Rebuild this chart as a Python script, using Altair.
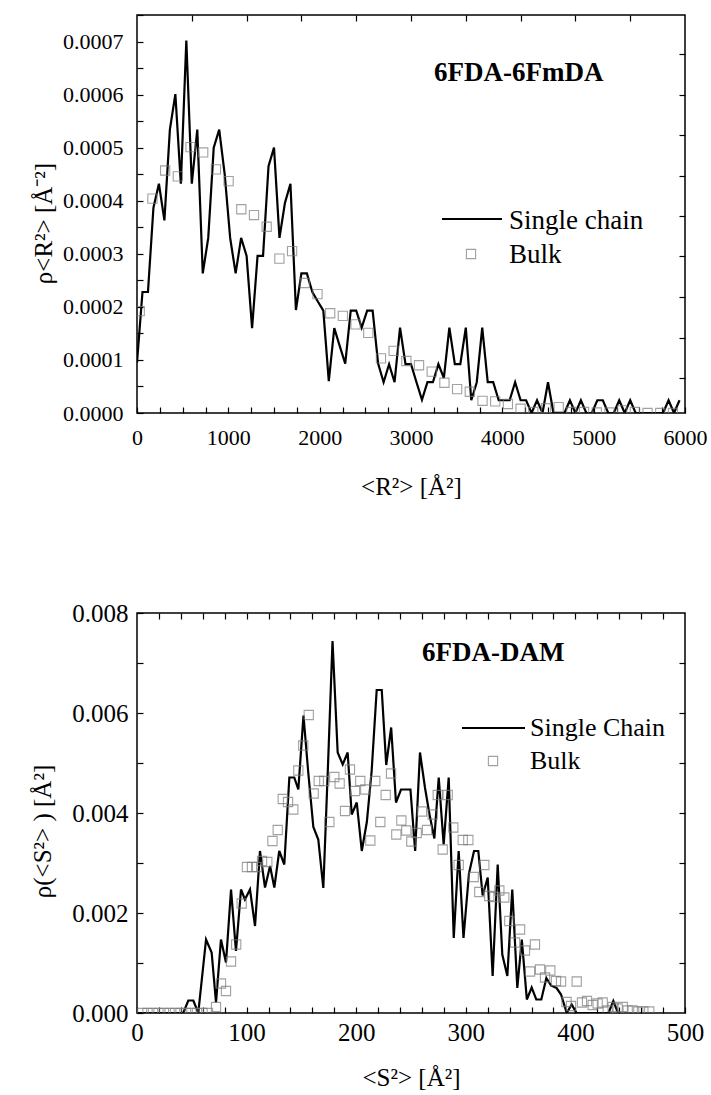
import altair as alt
import pandas as pd

FONT = "Liberation Serif"

# ---------------- top panel: 6FDA-6FmDA ----------------
R2_X = list(range(0, 6000, 60))
R2_SINGLE = [
    0.95e-4, 2.28e-4, 2.28e-4, 3.87e-4, 4.32e-4, 3.63e-4, 5.34e-4, 6.01e-4, 4.32e-4, 7.02e-4,
    4.32e-4, 5.34e-4, 2.63e-4, 3.30e-4, 5.00e-4, 5.34e-4, 4.50e-4, 3.30e-4, 2.63e-4, 3.30e-4,
    2.96e-4, 1.60e-4, 2.96e-4, 2.96e-4, 4.65e-4, 5.00e-4, 3.30e-4, 3.96e-4, 4.32e-4, 1.94e-4,
    2.63e-4, 2.63e-4, 2.28e-4, 2.10e-4, 1.93e-4, 0.60e-4, 1.60e-4, 1.26e-4, 0.93e-4, 1.93e-4,
    1.93e-4, 1.61e-4, 1.93e-4, 1.93e-4, 0.93e-4, 0.58e-4, 0.92e-4, 0.58e-4, 1.61e-4, 0.92e-4,
    0.92e-4, 0.58e-4, 0.25e-4, 0.58e-4, 0.58e-4, 0.92e-4, 0.66e-4, 1.61e-4, 0.92e-4, 0.92e-4,
    1.61e-4, 0.24e-4, 0.58e-4, 1.61e-4, 0.58e-4, 0.58e-4, 0.24e-4, 0.24e-4, 0.24e-4, 0.58e-4,
    0.24e-4, 0.24e-4, 0.0, 0.24e-4, 0.0, 0.58e-4, 0.0, 0.0, 0.0, 0.24e-4,
    0.0, 0.24e-4, 0.0, 0.0, 0.24e-4, 0.24e-4, 0.0, 0.0, 0.24e-4, 0.0,
    0.24e-4, 0.0, 0.0, 0.0, 0.0, 0.0, 0.0, 0.24e-4, 0.0, 0.24e-4,
]
R2_BULK_X = list(range(30, 5900, 139))
R2_BULK = [
    1.92e-4, 4.04e-4, 4.57e-4, 4.46e-4, 5.01e-4, 4.91e-4, 4.59e-4, 4.37e-4, 3.84e-4, 3.73e-4,
    3.51e-4, 2.91e-4, 3.05e-4, 2.45e-4, 2.24e-4, 1.88e-4, 1.83e-4, 1.67e-4, 1.51e-4, 1.03e-4,
    1.17e-4, 0.98e-4, 0.90e-4, 0.78e-4, 0.57e-4, 0.45e-4, 0.40e-4, 0.23e-4, 0.22e-4, 0.17e-4,
    0.08e-4, 0.02e-4, 0.09e-4, 0.11e-4, 0.02e-4, 0.02e-4, 0.01e-4, 0.01e-4, 0.05e-4, 0.02e-4,
    0.0, 0.0, 0.0,
]

# ---------------- bottom panel: 6FDA-DAM ----------------
S2_X = [
    0, 42.2, 46.8, 51.4, 55.9, 63.0, 68.1, 72.1, 76.6, 81.2, 85.8, 90.3, 94.9, 98.5, 103.1,
    107.7, 112.2, 116.8, 121.4, 125.3, 129.8, 134.4, 139.0, 143.5, 147.2, 151.9, 156.3, 160.9,
    165.4, 170.0, 174.3, 178.4, 183.1, 187.7, 192.2, 195.9, 200.5, 205.1, 209.7, 214.1, 218.7,
    223.3, 227.4, 231.9, 236.3, 240.9, 245.4, 249.5, 253.8, 258.2, 262.8, 266.9, 271.3, 275.3,
    279.8, 284.4, 289.0, 293.5, 297.9, 302.9, 307.5, 311.4, 315.4, 320.0, 324.5, 329.1, 333.3,
    337.9, 342.4, 347.0, 351.1, 355.7, 360.1, 364.3, 368.9, 373.5, 377.7, 382.8, 386.9, 392.1,
    396.6, 401.0, 430.2, 434.6, 438.9, 441.6,
]
S2_SINGLE = [
    0, 0, 0.25e-3, 0.25e-3, 0, 1.47e-3, 1.21e-3, 0.21e-3, 1.47e-3, 1.01e-3, 2.47e-3, 1.24e-3,
    2.47e-3, 2.27e-3, 2.47e-3, 1.74e-3, 3.24e-3, 2.51e-3, 2.94e-3, 2.51e-3, 3.24e-3, 2.97e-3,
    4.71e-3, 4.71e-3, 4.47e-3, 5.95e-3, 4.80e-3, 3.72e-3, 3.47e-3, 2.50e-3, 4.97e-3, 7.44e-3,
    5.21e-3, 4.97e-3, 5.21e-3, 3.97e-3, 4.21e-3, 3.24e-3, 3.82e-3, 4.84e-3, 6.46e-3, 6.46e-3,
    4.96e-3, 5.71e-3, 4.21e-3, 4.47e-3, 4.47e-3, 4.47e-3, 3.24e-3, 5.21e-3, 4.50e-3, 3.97e-3,
    3.49e-3, 4.71e-3, 3.37e-3, 4.71e-3, 1.50e-3, 3.24e-3, 1.50e-3, 2.79e-3, 3.24e-3, 3.24e-3,
    2.35e-3, 2.71e-3, 0.74e-3, 2.97e-3, 1.17e-3, 0.74e-3, 2.47e-3, 0.50e-3, 1.47e-3, 0.27e-3,
    0.51e-3, 0.27e-3, 0.27e-3, 0.70e-3, 0.55e-3, 0.50e-3, 0.37e-3, 0, 0.17e-3, 0, 0, 0.24e-3,
    0, 0,
]
S2_BULK_X = [
    4.6, 9.6, 14.6, 19.6, 24.6, 29.7, 34.7, 39.7, 44.7, 49.7, 54.7, 59.8, 64.8, 72.1, 76.6,
    81.2, 85.8, 90.5, 95.5, 100.3, 104.9, 109.6, 114.1, 118.9, 123.6, 128.4, 133.0, 137.8,
    142.6, 147.2, 151.7, 156.7, 161.2, 165.8, 170.9, 175.5, 180.0, 184.9, 189.8, 194.3, 198.9,
    203.7, 208.3, 212.9, 217.4, 222.0, 226.9, 231.8, 236.6, 241.2, 245.7, 250.3, 255.2, 260.0,
    264.6, 269.8, 274.4, 278.9, 283.5, 288.6, 293.5, 297.2, 302.3, 307.2, 312.3, 316.9, 321.4,
    326.0, 330.6, 335.1, 339.7, 344.9, 349.5, 354.0, 358.6, 363.1, 367.7, 372.3, 377.1, 382.3,
    386.9, 391.9, 396.0, 401.2, 406.0, 410.6, 415.8, 420.3, 424.9, 429.5, 434.0, 438.6, 443.2,
    447.7, 452.3, 457.4, 462.0, 467.4,
]
S2_BULK = [
    0, 0, 0, 0, 0, 0, 0, 0, 0, 0, 0, 0, 0, 0.12e-3, 0.59e-3,
    0.44e-3, 1.03e-3, 1.37e-3, 2.19e-3, 2.92e-3, 2.92e-3, 2.92e-3, 3.04e-3, 3.02e-3, 3.44e-3, 3.66e-3, 4.28e-3,
    4.22e-3, 4.07e-3, 4.85e-3, 5.35e-3, 5.96e-3, 4.39e-3, 4.64e-3, 4.64e-3, 3.82e-3, 4.72e-3, 4.59e-3,
    4.04e-3, 4.87e-3, 4.44e-3, 4.64e-3, 4.47e-3, 3.45e-3, 4.64e-3, 3.82e-3, 4.36e-3, 4.79e-3, 3.57e-3,
    3.85e-3, 3.65e-3, 3.43e-3, 3.60e-3, 4.03e-3, 3.66e-3, 3.97e-3, 4.36e-3, 3.27e-3, 4.36e-3, 3.71e-3,
    2.96e-3, 3.46e-3, 3.46e-3, 2.72e-3, 2.42e-3, 2.96e-3, 2.34e-3, 2.32e-3, 2.45e-3, 2.31e-3, 1.84e-3,
    1.41e-3, 1.67e-3, 1.25e-3, 0.83e-3, 1.37e-3, 0.87e-3, 0.71e-3, 0.85e-3, 0.64e-3, 0.63e-3, 0.22e-3,
    0.14e-3, 0.63e-3, 0.21e-3, 0.24e-3, 0.16e-3, 0.19e-3, 0.21e-3, 0.05e-3, 0.12e-3, 0.09e-3, 0.12e-3,
    0.05e-3, 0.05e-3, 0.03e-3, 0.03e-3, 0.03e-3,
]

LEGEND_TOP = ["Single chain", "Bulk"]
LEGEND_BOTTOM = ["Single Chain", "Bulk"]

W = 548
BULK_GRAY = "#7a7a7a"


def panel(line_df, bulk_df, xdom, ydom, xticks, xlab_step, yticks, ylab_mult, yfmt,
          top_ticks, right_ticks, xtitle, ytitle, name, h, legend, lg, fs):
    tick_fs, title_fs, ylab_pad, ytitle_pad, xlab_pad, xtitle_pad, ytitle_y = fs
    xs = alt.Scale(domain=xdom, nice=False, zero=False)
    ys = alt.Scale(domain=ydom, nice=False, zero=False)
    common = dict(grid=False, domain=False, tickColor="black", tickWidth=1.2,
                  labelFont=FONT, titleFont=FONT, labelColor="black", titleColor="black",
                  titleFontWeight="normal", labelOverlap=False, labelFlush=False)
    xaxis = alt.Axis(values=xticks, format="d",
                     labelExpr=f"datum.value % {xlab_step} == 0 ? datum.label : ''",
                     tickSize=6, offset=-6, labelPadding=xlab_pad, labelFontSize=tick_fs,
                     title=xtitle, titleFontSize=title_fs, titlePadding=xtitle_pad, **common)
    yaxis = alt.Axis(values=yticks, format=yfmt,
                     labelExpr=f"abs(datum.value*{ylab_mult} - round(datum.value*{ylab_mult})) < 0.001 ? datum.label : ''",
                     tickSize=6, offset=-6, labelPadding=ylab_pad, labelFontSize=tick_fs,
                     title=ytitle, titleFontSize=title_fs, titlePadding=ytitle_pad,
                     titleY=ytitle_y, **common)
    line = alt.Chart(line_df).mark_line(color="black", strokeWidth=2.2, clip=True).encode(
        x=alt.X("x:Q", scale=xs, axis=xaxis),
        y=alt.Y("y:Q", scale=ys, axis=yaxis),
    )
    topax = alt.Axis(values=top_ticks, orient="top", labels=False, title=None, tickSize=6,
                     offset=-6, domain=False, grid=False, tickColor="black", tickWidth=1.2)
    rightax = alt.Axis(values=right_ticks, orient="right", labels=False, title=None, tickSize=6,
                       offset=-6, domain=False, grid=False, tickColor="black", tickWidth=1.2)
    pts = alt.Chart(bulk_df).mark_point(shape="square", size=85, filled=False,
                                        color=BULK_GRAY, strokeWidth=1.1, clip=True).encode(
        x=alt.X("x:Q", scale=xs, axis=topax),
        y=alt.Y("y:Q", scale=ys, axis=rightax),
    )
    lx0, lx1, ly_line, lab_x, ly_text1, sq_x, sq_y, ly_text2, nm_x, nm_y, nm_fs, lg_fs = lg
    one = pd.DataFrame({"k": [0]})
    leg_rule = alt.Chart(one).mark_rule(color="black", strokeWidth=2.2).encode(
        x=alt.value(lx0), x2=alt.value(lx1), y=alt.value(ly_line))
    leg_t1 = alt.Chart(one).mark_text(font=FONT, fontSize=lg_fs, align="left", baseline="alphabetic",
                                      color="black").encode(
        x=alt.value(lab_x), y=alt.value(ly_text1), text=alt.value(legend[0]))
    leg_sq = alt.Chart(one).mark_point(shape="square", size=85, filled=False, color=BULK_GRAY,
                                       strokeWidth=1.1).encode(x=alt.value(sq_x), y=alt.value(sq_y))
    leg_t2 = alt.Chart(one).mark_text(font=FONT, fontSize=lg_fs, align="left", baseline="alphabetic",
                                      color="black").encode(
        x=alt.value(lab_x), y=alt.value(ly_text2), text=alt.value(legend[1]))
    nm = alt.Chart(one).mark_text(font=FONT, fontSize=nm_fs, fontWeight="bold", align="left",
                                  baseline="alphabetic", color="black").encode(
        x=alt.value(nm_x), y=alt.value(nm_y), text=alt.value(name))
    return alt.layer(line, pts, leg_rule, leg_t1, leg_sq, leg_t2, nm).resolve_axis(
        x="independent", y="independent").properties(width=W, height=h)


top_df = pd.DataFrame({"x": R2_X, "y": R2_SINGLE})
top_bulk = pd.DataFrame({"x": R2_BULK_X, "y": R2_BULK})
bot_df = pd.DataFrame({"x": S2_X, "y": S2_SINGLE})
bot_bulk = pd.DataFrame({"x": S2_BULK_X, "y": S2_BULK})

top = panel(
    top_df, top_bulk, [0, 6000], [0, 0.00075],
    list(range(0, 6001, 250)), 1000,
    [round(i * 0.00005, 6) for i in range(16)], 10000, ".4f",
    [600 * i for i in range(1, 10)],
    [0.000066, 0.000142, 0.000218, 0.000295, 0.000371, 0.000447, 0.000523, 0.000600, 0.000676],
    "<R²> [Å²]", "ρ<R²> [Å⁻²]", "6FDA-6FmDA", 398, LEGEND_TOP,
    (305, 365, 204, 372, 214, 334, 239, 248, 297, 66, 27, 27),
    (22, 25, 14, 6, 14, 26, 208),
)
bottom = panel(
    bot_df, bot_bulk, [0, 500], [0, 0.008],
    list(range(0, 501, 20)), 100,
    [round(i * 0.001, 4) for i in range(9)], 500, ".3f",
    list(range(20, 500, 20)),
    [round(i * 0.001, 4) for i in range(1, 8)],
    "<S²> [Å²]", "ρ(<S²> ) [Å²]", "6FDA-DAM", 400, LEGEND_BOTTOM,
    (325, 388, 115, 393, 123, 356, 148, 156, 285, 48, 27, 26),
    (25, 25, 9, 16, 7, 20, 218),
)

chart = alt.vconcat(top, bottom, spacing=200, bounds="flush").configure_view(
    stroke="black", strokeWidth=1.5
).properties(
    padding={"left": 30, "top": 3, "right": 0, "bottom": 0},
    background="white",
)

chart.save("out.html", embed_options={"renderer": "svg", "actions": False})
